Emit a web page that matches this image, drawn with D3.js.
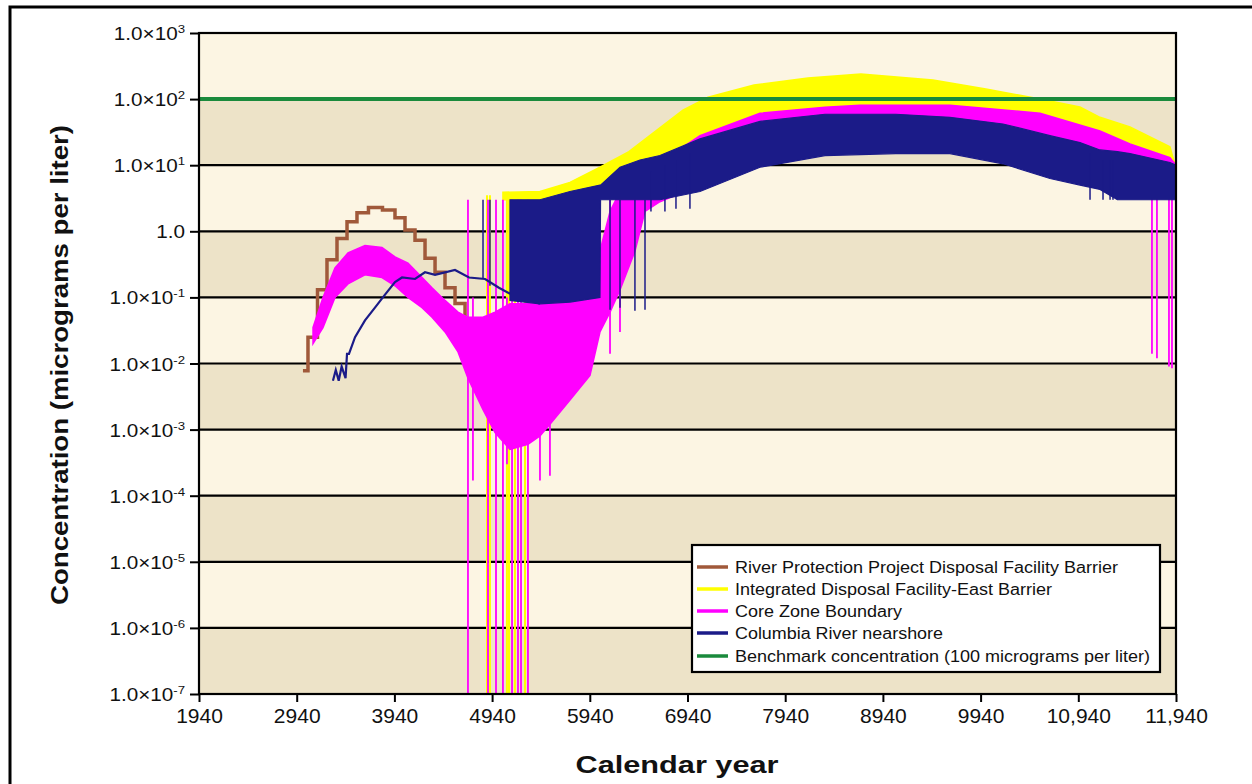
<!DOCTYPE html>
<html><head><meta charset="utf-8">
<script src="https://cdn.jsdelivr.net/npm/d3@7"></script>
<style>
body{margin:0;background:#fff;}
svg{display:block;font-family:Arial,"Liberation Sans",sans-serif;}
</style>
</head><body>
<svg id="chart" width="1252" height="784"></svg>
<script>
// ---------- data ----------
const xTicks = [1940, 2940, 3940, 4940, 5940, 6940, 7940, 8940, 9940, 10940, 11940];
const yTicks = [1e-7, 1e-6, 1e-5, 1e-4, 1e-3, 1e-2, 1e-1, 1, 1e1, 1e2, 1e3];
const yExponents = [-7, -6, -5, -4, -3, -2, -1, 0, 1, 2, 3];
const seriesNames = [
  "River Protection Project Disposal Facility Barrier",
  "Integrated Disposal Facility-East Barrier",
  "Core Zone Boundary",
  "Columbia River nearshore",
  "Benchmark concentration (100 micrograms per liter)"
];
const seriesColors = ["#a0593a", "#ffff00", "#ff00ff", "#1b1b88", "#1a8a3c"];
const benchmarkValue = 100;

// River Protection Project Disposal Facility Barrier (brown)
const brownYears  = [3004, 3107, 3199, 3301, 3404, 3506, 3608, 3741, 3895, 3997, 4100, 4202, 4305, 4407, 4509, 4612, 4714, 4816, 4918];
const brownValues = [0.0078, 0.025, 0.13, 0.37, 0.78, 1.4, 1.9, 2.3, 2.1, 1.6, 1.05, 0.73, 0.39, 0.24, 0.14, 0.081, 0.040, 0.022, 0.011];

// Integrated Disposal Facility-East Barrier (yellow) - band of the noisy trace
const yellowYears = [5051, 5430, 5737, 6044, 6340, 6893, 7150, 7621, 8173, 8715, 9452, 9994, 10548, 10957, 11162, 11469, 11878, 11940];
const yellowUpper = [3.9, 4.0, 5.5, 9.3, 16, 68, 107, 163, 208, 239, 194, 142, 100, 76, 53, 38, 19, 9];
const yellowLower = [3.0, 3.0, 3.0, 3.5, 4.5, 10, 15, 25, 35, 45, 45, 35, 25, 15, 10, 7, 5, 4];
const yellowSpikeYears   = [4888, 4918, 5092, 5113, 5174, 5277];
const yellowSpikeTops    = [3.5, 3.5, 3.5, 3.5, 3.5, 3.5];
const yellowSpikeBottoms = [1e-7, 1e-7, 1e-7, 1e-7, 1e-7, 1e-7];

// Core Zone Boundary (magenta) - band of the noisy trace
const pinkYears = [3107, 3209, 3332, 3465, 3639, 3813, 3946, 4079, 4223, 4325, 4458, 4591, 4693, 4847, 4970, 5123, 5307, 5430, 5532, 5737, 5942, 6044, 6147, 6249, 6402, 6505, 6658, 7068, 7682, 8347, 8705, 9626, 10548, 11162, 11469, 11878, 11940];
const pinkUpper = [0.035, 0.1, 0.28, 0.47, 0.61, 0.57, 0.41, 0.33, 0.2, 0.14, 0.09, 0.06, 0.05, 0.05, 0.06, 0.08, 0.08, 0.09, 0.09, 0.1, 0.1, 0.5, 2, 4, 6, 8, 11, 28, 61, 75, 81, 81, 61, 33, 21, 13, 10];
const pinkLower = [0.02, 0.035, 0.1, 0.16, 0.22, 0.2, 0.15, 0.1, 0.07, 0.05, 0.03, 0.015, 0.006, 0.002, 0.0009, 0.0005, 0.0006, 0.0008, 0.0012, 0.0028, 0.0066, 0.03, 0.06, 0.13, 0.5, 2.0, 2.8, 5, 11, 18, 20, 20, 12, 6, 4.5, 3.5, 3.5];
const pinkSpikeYears   = [4693, 4898, 4980, 5051, 5144, 5205, 5236, 5307, 4744, 5092, 5430, 5532, 6147, 6249, 11694, 11745, 11868, 11899];
const pinkSpikeTops    = [3, 3, 3, 3, 3, 3, 3, 3, 0.1, 0.1, 0.1, 0.1, 3, 3, 5, 5, 4, 4];
const pinkSpikeBottoms = [1e-7, 1e-7, 1e-7, 1e-7, 1e-7, 1e-7, 1e-7, 1e-7, 0.00017, 0.0003, 0.00017, 0.0002, 0.014, 0.03, 0.014, 0.012, 0.009, 0.0085];

// Columbia River nearshore (navy)
const navyLineYears  = [3311, 3340, 3370, 3400, 3440, 3455, 3475, 3537, 3639, 3741, 3844, 3946, 4018, 4151, 4253, 4356, 4560, 4704, 4868, 5010, 5143, 5246, 5430];
const navyLineValues = [0.0055, 0.008, 0.0055, 0.009, 0.006, 0.014, 0.014, 0.025, 0.045, 0.07, 0.11, 0.17, 0.2, 0.19, 0.24, 0.22, 0.26, 0.2, 0.19, 0.14, 0.11, 0.10, 0.08];
const navyBandYears = [5123, 5430, 5737, 6044, 6050, 6249, 6454, 6658, 7068, 7682, 8347, 9073, 9626, 10169, 10650, 10957, 11162, 11340, 11469, 11878, 11940];
const navyBandUpper = [3.0, 3.0, 4.0, 5.0, 5.0, 9.3, 12, 14, 25, 46, 59, 59, 53, 42, 28, 22, 17, 16, 15, 11, 10];
const navyBandLower = [0.09, 0.08, 0.085, 0.1, 3.0, 3.0, 3.0, 3.0, 4.0, 9.3, 14, 15, 15, 10.5, 6.3, 5, 4.3, 3.0, 3.0, 3.0, 3.0];
const navySpikeYears   = [4847, 4918, 6147, 6249, 6402, 6505, 6566, 6709, 6822, 6965, 11060, 11193, 11265, 11295];
const navySpikeTops    = [3, 3, 3, 3, 3, 3, 8, 10, 12, 15, 15, 12, 12, 12];
const navySpikeBottoms = [0.19, 0.15, 0.065, 0.07, 0.063, 0.065, 2.0, 2.0, 2.2, 2.2, 3, 3, 3, 3];

// ---------- drawing ----------
const FONT = "Arial, 'Liberation Sans', sans-serif";
const svg = d3.select("#chart");
const P = {left: 199, right: 1176, top: 33, bottom: 694};
const x = d3.scaleLinear().domain([1940, 11940]).range([P.left, P.right]);
const y = d3.scaleLog().domain([1e-7, 1e3]).range([P.bottom, P.top]);

// outer frame
svg.append("path").attr("d", "M10,784 V7 H1252")
  .attr("fill", "none").attr("stroke", "#000").attr("stroke-width", 3);

// alternating bands
const bands = d3.range(yTicks.length - 1);
svg.append("g").selectAll("rect").data(bands).join("rect")
  .attr("x", P.left).attr("width", P.right - P.left)
  .attr("y", i => y(yTicks[i + 1])).attr("height", i => y(yTicks[i]) - y(yTicks[i + 1]))
  .attr("fill", i => i % 2 === 0 ? "#ede3c8" : "#fcf5e3");

// gridlines
svg.append("g").selectAll("line").data(yTicks.slice(1, -1)).join("line")
  .attr("x1", P.left).attr("x2", P.right)
  .attr("y1", d => y(d)).attr("y2", d => y(d))
  .attr("stroke", "#000").attr("stroke-width", 2.2);

svg.append("clipPath").attr("id", "clip").append("rect")
  .attr("x", P.left).attr("y", P.top).attr("width", P.right - P.left).attr("height", P.bottom - P.top);
const plot = svg.append("g").attr("clip-path", "url(#clip)");

const zipBand = (ys, up, lo) => ys.map((d, i) => ({year: d, upper: up[i], lower: lo[i]}));
const area = d3.area().x(d => x(d.year)).y0(d => y(d.lower)).y1(d => y(d.upper));
const spikes = (g, ys, tops, bots, color, w) => {
  g.append("g").selectAll("line").data(ys.map((d, i) => ({year: d, top: tops[i], bot: bots[i]}))).join("line")
    .attr("x1", d => x(d.year)).attr("x2", d => x(d.year))
    .attr("y1", d => y(d.top)).attr("y2", d => y(d.bot))
    .attr("stroke", color).attr("stroke-width", w);
};

// brown
plot.append("path")
  .datum(brownYears.map((d, i) => ({year: d, v: brownValues[i]})))
  .attr("d", d3.line().x(d => x(d.year)).y(d => y(d.v)).curve(d3.curveStep))
  .attr("fill", "none").attr("stroke", seriesColors[0]).attr("stroke-width", 3.5);

// yellow
plot.append("path").datum(zipBand(yellowYears, yellowUpper, yellowLower))
  .attr("d", area).attr("fill", seriesColors[1]).attr("stroke", seriesColors[1]).attr("stroke-width", 1.5);
spikes(plot, yellowSpikeYears, yellowSpikeTops, yellowSpikeBottoms, seriesColors[1], 2);

// magenta
plot.append("path").datum(zipBand(pinkYears, pinkUpper, pinkLower))
  .attr("d", area).attr("fill", seriesColors[2]).attr("stroke", seriesColors[2]).attr("stroke-width", 1.5);
spikes(plot, pinkSpikeYears, pinkSpikeTops, pinkSpikeBottoms, seriesColors[2], 1.8);

// navy
plot.append("path")
  .datum(navyLineYears.map((d, i) => ({year: d, v: navyLineValues[i]})))
  .attr("d", d3.line().x(d => x(d.year)).y(d => y(d.v)))
  .attr("fill", "none").attr("stroke", seriesColors[3]).attr("stroke-width", 2.2);
plot.append("path").datum(zipBand(navyBandYears, navyBandUpper, navyBandLower))
  .attr("d", area).attr("fill", seriesColors[3]).attr("stroke", seriesColors[3]).attr("stroke-width", 1.2);
spikes(plot, navySpikeYears, navySpikeTops, navySpikeBottoms, seriesColors[3], 1.5);

// benchmark
plot.append("line")
  .attr("x1", P.left).attr("x2", P.right)
  .attr("y1", y(benchmarkValue)).attr("y2", y(benchmarkValue))
  .attr("stroke", seriesColors[4]).attr("stroke-width", 4);

// plot border
svg.append("rect").attr("x", P.left).attr("y", P.top)
  .attr("width", P.right - P.left).attr("height", P.bottom - P.top)
  .attr("fill", "none").attr("stroke", "#000").attr("stroke-width", 2.2);

// x axis
const xAxis = d3.axisBottom(x).tickValues(xTicks).tickSize(8).tickPadding(6)
  .tickFormat(d => d >= 10000 ? d3.format(",")(d) : String(d));
const gx = svg.append("g").attr("transform", `translate(0,${P.bottom})`).call(xAxis);
gx.attr("font-size", 21).attr("font-family", FONT);
gx.select(".domain").remove();
gx.selectAll(".tick line").attr("stroke", "#000").attr("stroke-width", 2);
gx.selectAll(".tick text").style("font-size", "21px").attr("fill", "#111");

// y axis
const yAxis = d3.axisLeft(y).tickValues(yTicks).tickSize(9).tickFormat("");
const gy = svg.append("g").attr("transform", `translate(${P.left},0)`).call(yAxis);
gy.attr("font-family", FONT);
gy.select(".domain").remove();
gy.selectAll(".tick line").attr("stroke", "#000").attr("stroke-width", 2);
gy.selectAll(".tick").each(function(d) {
  const e = yExponents[yTicks.indexOf(d)];
  const t = d3.select(this).append("text")
    .attr("transform", "translate(-14,6.5) scale(1.15,1)")
    .attr("text-anchor", "end").attr("fill", "#111").style("font-size", "18px");
  if (e === 0) {
    t.text("1.0");
  } else {
    t.append("tspan").text("1.0\u00d710");
    t.append("tspan").style("font-size", "11.5px").attr("dy", -7).text(String(e));
  }
});

// axis titles
svg.append("text").attr("x", 677).attr("y", 773).attr("text-anchor", "middle")
  .attr("font-size", 24).attr("font-weight", "bold").attr("fill", "#111")
  .attr("textLength", 203).attr("lengthAdjust", "spacingAndGlyphs")
  .text("Calendar year");
svg.append("text").attr("transform", "translate(68,365) rotate(-90)").attr("text-anchor", "middle")
  .attr("font-size", 24).attr("font-weight", "bold").attr("fill", "#111")
  .attr("textLength", 480).attr("lengthAdjust", "spacingAndGlyphs")
  .text("Concentration (micrograms per liter)");

// legend
const legendWidths = [383, 317, 167, 208, 415];
const legendRows = [567, 589, 611, 633, 656];
const lg = svg.append("g");
lg.append("rect").attr("x", 692).attr("y", 545).attr("width", 468).attr("height", 127)
  .attr("fill", "#fff").attr("stroke", "#000").attr("stroke-width", 2.2);
const rows = lg.selectAll("g.row").data(seriesNames).join("g").attr("class", "row")
  .attr("transform", (d, i) => `translate(0,${legendRows[i]})`);
rows.append("line").attr("x1", 697).attr("x2", 728).attr("y1", 0).attr("y2", 0)
  .attr("stroke", (d, i) => seriesColors[i]).attr("stroke-width", 3.5);
rows.append("text").attr("x", 735).attr("y", 6).attr("font-size", 16).attr("fill", "#111")
  .attr("font-family", FONT)
  .attr("textLength", (d, i) => legendWidths[i]).attr("lengthAdjust", "spacingAndGlyphs")
  .text(d => d);
</script>
</body></html>
